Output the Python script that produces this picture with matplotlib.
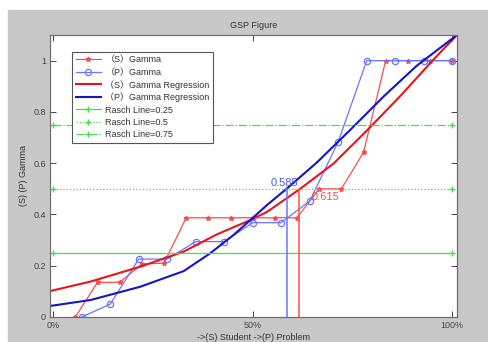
import matplotlib
matplotlib.use("Agg")
import matplotlib.pyplot as plt
from matplotlib.patches import Rectangle

plt.rcParams['font.family'] = ['Liberation Sans', 'Noto Sans CJK SC', 'DejaVu Sans']

# observed gamma values
s_x = [i / 18 for i in range(1, 19)]
s_gamma = [0, 0.135, 0.135, 0.207, 0.21, 0.387, 0.387, 0.387, 0.387, 0.387, 0.387,
           0.5, 0.5, 0.642, 1, 1, 1, 1]
p_x = [i / 14 for i in range(1, 15)]
p_gamma = [0, 0.05, 0.226, 0.226, 0.294, 0.294, 0.368, 0.368, 0.452, 0.683,
           1, 1, 1, 1]

# regression curves
s_reg_x = [-0.008, 0.093, 0.218, 0.327, 0.41, 0.494, 0.536, 0.619, 0.703, 0.786,
           0.870, 0.953, 1.012]
s_reg_y = [0.101, 0.138, 0.196, 0.255, 0.322, 0.378, 0.410, 0.500, 0.599, 0.727,
           0.862, 1.004, 1.100]
p_reg_x = [-0.008, 0.093, 0.218, 0.327, 0.393, 0.452, 0.494, 0.536, 0.585, 0.661,
           0.744, 0.828, 0.911, 1.012]
p_reg_y = [0.043, 0.066, 0.118, 0.179, 0.248, 0.320, 0.378, 0.437, 0.500, 0.603,
           0.729, 0.860, 0.980, 1.100]

rasch = [0.25, 0.5, 0.75]
rasch_styles = ['-', ':', '-.']
s_cross = 0.615
p_cross = 0.585

fig = plt.figure(figsize=(4.89, 3.42), dpi=100, facecolor='white')
fig.patches.append(Rectangle((8 / 489, 0), 1, (342 - 10) / 342,
                             transform=fig.transFigure, color='#c8c8c8', zorder=-10))
ax = fig.add_axes([50 / 489, 25 / 342, 407 / 489, 282 / 342])
ax.set_facecolor('white')

ax.plot(s_x, s_gamma, '-', color='#ff4a4a', lw=0.9, marker='*', ms=3.5,
        label='（S）Gamma')
ax.plot(p_x, p_gamma, '-', color='#6a74ff', lw=0.9, marker='o', ms=4.5,
        mfc='none', mew=0.9, label='（P）Gamma')
ax.plot(s_reg_x, s_reg_y, '-', color='#e8141c', lw=1.5, label='（S）Gamma Regression')
ax.plot(p_reg_x, p_reg_y, '-', color='#1414c8', lw=1.5, label='（P）Gamma Regression')
for r, ls in zip(rasch, rasch_styles):
    ax.plot([0, 1], [r, r], linestyle=ls, color='#40e040', lw=0.9, marker='+',
            ms=5, label='Rasch Line=%g' % r)

ax.plot([p_cross, p_cross], [0, 0.5], color='#6a74ff', lw=1.1)
ax.plot([s_cross, s_cross], [0, 0.5], color='#ff4a4a', lw=1.1)
ax.text(0.544, 0.524, '%.3f' % p_cross, color='#4a5aee', fontsize=8, va='center')
ax.text(0.648, 0.468, '%.3f' % s_cross, color='#f05050', fontsize=8, va='center')

ax.set_xlim(-0.008, 1.012)
ax.set_ylim(0, 1.1)
ax.set_xticks([0, 0.5, 1])
ax.set_xticklabels(['0%', '50%', '100%'])
ax.set_yticks([0, 0.2, 0.4, 0.6, 0.8, 1])
ax.set_yticklabels(['0', '0.2', '0.4', '0.6', '0.8', '1'])
ax.tick_params(direction='in', length=4, width=0.7, labelsize=6.5, colors='#444444',
               top=True, right=True, pad=3)
for sp in ax.spines.values():
    sp.set_color('#707070')
    sp.set_linewidth(0.9)

ax.set_title('GSP Figure', fontsize=6.5, color='#333333', pad=5)
ax.set_xlabel('->(S) Student ->(P) Problem', fontsize=6.5, color='#333333', labelpad=2)
ax.set_ylabel('(S) (P) Gamma', fontsize=6.5, color='#333333', labelpad=4)

leg = ax.legend(loc='upper left', bbox_to_anchor=(0.054, 0.94), borderaxespad=0,
                fontsize=6.5, labelspacing=0.35, handlelength=2.8, handletextpad=0.5,
                numpoints=1, fancybox=False, framealpha=1, edgecolor='#555555',
                borderpad=0.4)
leg.get_frame().set_linewidth(0.8)
for t in leg.get_texts():
    t.set_color('#333333')

fig.savefig('out.png', dpi=100, facecolor=fig.get_facecolor())
